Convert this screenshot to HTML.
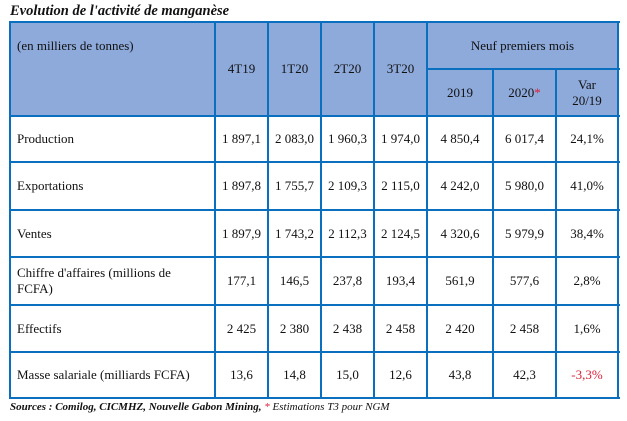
<!DOCTYPE html>
<html><head><meta charset="utf-8"><style>
body{margin:0;width:627px;height:421px;background:#fff;position:relative;font-family:"Liberation Serif",serif;font-size:13px;color:#111;overflow:hidden}
.t{position:absolute;left:10px;top:3px;font-weight:bold;font-style:italic;font-size:14.5px}
.c{position:absolute;display:flex;align-items:center;justify-content:center;text-align:center;line-height:16px;box-sizing:border-box}
.l{justify-content:flex-start;text-align:left;padding-left:7px}
.h{background:#8eaadb}
.hl{position:absolute;background:#0b6fc0;height:2px}
.vl{position:absolute;background:#0b6fc0;width:2px}
.s{position:absolute;left:10px;top:401px;font-size:11px;font-style:italic}
</style></head><body>
<div class="t">Evolution de l'activité de manganèse</div>
<div class="c h" style="left:10px;top:22px;width:608px;height:94px"></div>
<div class="c l" style="left:10px;top:38px;width:205px;height:30px;align-items:flex-start">(en milliers de tonnes)</div>
<div class="c" style="left:215px;top:22px;width:53px;height:94px">4T19</div>
<div class="c" style="left:268px;top:22px;width:53px;height:94px">1T20</div>
<div class="c" style="left:321px;top:22px;width:53px;height:94px">2T20</div>
<div class="c" style="left:374px;top:22px;width:53px;height:94px">3T20</div>
<div class="c" style="left:427px;top:22px;width:191px;height:47px">Neuf premiers mois</div>
<div class="c" style="left:427px;top:69px;width:66px;height:47px">2019</div>
<div class="c" style="left:493px;top:69px;width:63px;height:47px">2020<span style="color:#e0203a">*</span></div>
<div class="c" style="left:556px;top:69px;width:62px;height:47px">Var<br>20/19</div>

<div class="c l" style="left:10px;top:116px;width:205px;height:46px">Production</div>
<div class="c" style="left:215px;top:116px;width:53px;height:46px">1 897,1</div>
<div class="c" style="left:268px;top:116px;width:53px;height:46px">2 083,0</div>
<div class="c" style="left:321px;top:116px;width:53px;height:46px">1 960,3</div>
<div class="c" style="left:374px;top:116px;width:53px;height:46px">1 974,0</div>
<div class="c" style="left:427px;top:116px;width:66px;height:46px">4 850,4</div>
<div class="c" style="left:493px;top:116px;width:63px;height:46px">6 017,4</div>
<div class="c" style="left:556px;top:116px;width:62px;height:46px">24,1%</div>

<div class="c l" style="left:10px;top:162px;width:205px;height:48px">Exportations</div>
<div class="c" style="left:215px;top:162px;width:53px;height:48px">1 897,8</div>
<div class="c" style="left:268px;top:162px;width:53px;height:48px">1 755,7</div>
<div class="c" style="left:321px;top:162px;width:53px;height:48px">2 109,3</div>
<div class="c" style="left:374px;top:162px;width:53px;height:48px">2 115,0</div>
<div class="c" style="left:427px;top:162px;width:66px;height:48px">4 242,0</div>
<div class="c" style="left:493px;top:162px;width:63px;height:48px">5 980,0</div>
<div class="c" style="left:556px;top:162px;width:62px;height:48px">41,0%</div>

<div class="c l" style="left:10px;top:210px;width:205px;height:47px">Ventes</div>
<div class="c" style="left:215px;top:210px;width:53px;height:47px">1 897,9</div>
<div class="c" style="left:268px;top:210px;width:53px;height:47px">1 743,2</div>
<div class="c" style="left:321px;top:210px;width:53px;height:47px">2 112,3</div>
<div class="c" style="left:374px;top:210px;width:53px;height:47px">2 124,5</div>
<div class="c" style="left:427px;top:210px;width:66px;height:47px">4 320,6</div>
<div class="c" style="left:493px;top:210px;width:63px;height:47px">5 979,9</div>
<div class="c" style="left:556px;top:210px;width:62px;height:47px">38,4%</div>

<div class="c l" style="left:10px;top:257px;width:205px;height:48px">Chiffre d'affaires (millions de<br>FCFA)</div>
<div class="c" style="left:215px;top:257px;width:53px;height:48px">177,1</div>
<div class="c" style="left:268px;top:257px;width:53px;height:48px">146,5</div>
<div class="c" style="left:321px;top:257px;width:53px;height:48px">237,8</div>
<div class="c" style="left:374px;top:257px;width:53px;height:48px">193,4</div>
<div class="c" style="left:427px;top:257px;width:66px;height:48px">561,9</div>
<div class="c" style="left:493px;top:257px;width:63px;height:48px">577,6</div>
<div class="c" style="left:556px;top:257px;width:62px;height:48px">2,8%</div>

<div class="c l" style="left:10px;top:305px;width:205px;height:47px">Effectifs</div>
<div class="c" style="left:215px;top:305px;width:53px;height:47px">2 425</div>
<div class="c" style="left:268px;top:305px;width:53px;height:47px">2 380</div>
<div class="c" style="left:321px;top:305px;width:53px;height:47px">2 438</div>
<div class="c" style="left:374px;top:305px;width:53px;height:47px">2 458</div>
<div class="c" style="left:427px;top:305px;width:66px;height:47px">2 420</div>
<div class="c" style="left:493px;top:305px;width:63px;height:47px">2 458</div>
<div class="c" style="left:556px;top:305px;width:62px;height:47px">1,6%</div>

<div class="c l" style="left:10px;top:352px;width:205px;height:46px">Masse salariale (milliards FCFA)</div>
<div class="c" style="left:215px;top:352px;width:53px;height:46px">13,6</div>
<div class="c" style="left:268px;top:352px;width:53px;height:46px">14,8</div>
<div class="c" style="left:321px;top:352px;width:53px;height:46px">15,0</div>
<div class="c" style="left:374px;top:352px;width:53px;height:46px">12,6</div>
<div class="c" style="left:427px;top:352px;width:66px;height:46px">43,8</div>
<div class="c" style="left:493px;top:352px;width:63px;height:46px">42,3</div>
<div class="c" style="left:556px;top:352px;width:62px;height:46px;color:#e0203a">-3,3%</div>

<div class="hl" style="left:9px;top:21px;width:611px"></div>
<div class="hl" style="left:427px;top:68px;width:193px"></div>
<div class="hl" style="left:9px;top:115px;width:611px"></div>
<div class="hl" style="left:9px;top:161px;width:611px"></div>
<div class="hl" style="left:9px;top:209px;width:611px"></div>
<div class="hl" style="left:9px;top:256px;width:611px"></div>
<div class="hl" style="left:9px;top:304px;width:611px"></div>
<div class="hl" style="left:9px;top:351px;width:611px"></div>
<div class="hl" style="left:9px;top:397px;width:611px"></div>
<div class="vl" style="left:9px;top:21px;height:378px"></div>
<div class="vl" style="left:214px;top:21px;height:378px"></div>
<div class="vl" style="left:267px;top:21px;height:378px"></div>
<div class="vl" style="left:320px;top:21px;height:378px"></div>
<div class="vl" style="left:373px;top:21px;height:378px"></div>
<div class="vl" style="left:426px;top:21px;height:378px"></div>
<div class="vl" style="left:492px;top:68px;height:331px"></div>
<div class="vl" style="left:555px;top:68px;height:331px"></div>
<div class="vl" style="left:617px;top:21px;height:378px"></div>

<div class="s"><b>Sources : Comilog, CICMHZ, Nouvelle Gabon Mining,</b> <span style="color:#e0203a">*</span> Estimations T3 pour NGM</div>
</body></html>
